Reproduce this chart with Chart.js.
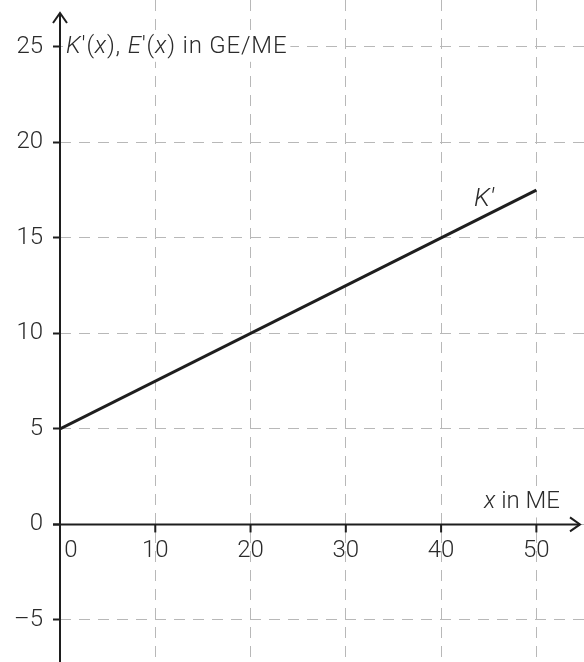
<!DOCTYPE html>
<html lang="de">
<head>
    <meta charset="UTF-8">
    <title>K'(x) Grenzkosten</title>
    <script src="https://cdn.jsdelivr.net/npm/chart.js"></script>
    <style>
        html, body { margin: 0; padding: 0; background: #fff; }
        .wrap { position: relative; width: 584px; height: 662px; }
    </style>
</head>
<body>
    <div class="wrap"><canvas id="chart"></canvas></div>
    <script>
        // data
        var xValues = [0, 50];
        var kValues = [5, 17.5];
        var xTicks = [10, 20, 30, 40, 50];
        var xLabels = ['0', '10', '20', '30', '40', '50'];
        var xLabelValues = [0, 10, 20, 30, 40, 50];
        var yTicks = [-5, 0, 5, 10, 15, 20, 25];

        var FONT = 'Roboto, "Liberation Sans", sans-serif';
        var SIZE = 24;
        var TEXT = '#2b2b2b';
        var AXIS = '#1e1e1e';

        // axes with arrows, x tick labels at y = 0, titles
        var axesPlugin = {
            id: 'axes',
            afterDraw: function (chart) {
                var ctx = chart.ctx;
                var xs = chart.scales.x, ys = chart.scales.y;
                var area = chart.chartArea;
                var x0 = xs.getPixelForValue(0);
                var y0 = ys.getPixelForValue(0);
                ctx.save();
                ctx.strokeStyle = AXIS;
                ctx.lineWidth = 2;
                ctx.lineCap = 'butt';

                // y axis
                ctx.beginPath();
                ctx.moveTo(x0, area.bottom);
                ctx.lineTo(x0, 13);
                ctx.stroke();
                ctx.beginPath();
                ctx.moveTo(x0 - 7, 23);
                ctx.lineTo(x0, 13);
                ctx.lineTo(x0 + 7, 23);
                ctx.stroke();

                // x axis
                ctx.beginPath();
                ctx.moveTo(x0 - 7, y0);
                ctx.lineTo(580, y0);
                ctx.stroke();
                ctx.beginPath();
                ctx.moveTo(570, y0 - 7);
                ctx.lineTo(580, y0);
                ctx.lineTo(570, y0 + 7);
                ctx.stroke();

                // x tick marks
                xTicks.forEach(function (v) {
                    var px = xs.getPixelForValue(v);
                    ctx.beginPath();
                    ctx.moveTo(px, y0);
                    ctx.lineTo(px, y0 + 8);
                    ctx.stroke();
                });

                // x tick labels
                ctx.font = '300 ' + SIZE + 'px ' + FONT;
                ctx.fillStyle = TEXT;
                ctx.textBaseline = 'middle';
                ctx.textAlign = 'center';
                xLabelValues.forEach(function (v, i) {
                    var px = xs.getPixelForValue(v);
                    if (v === 0) px += 11;
                    ctx.fillText(xLabels[i], px, y0 + 27);
                });

                // y title
                var parts = [
                    ['K', true], ['\u2032(', false], ['x', true], ['), ', false],
                    ['E', true], ['\u2032(', false], ['x', true], [') in GE/ME', false]
                ];
                drawParts(ctx, parts, x0 + 6, ys.getPixelForValue(25), '0.8px');

                // x title
                var xparts = [['x', true], [' in ME', false]];
                var w = measureParts(ctx, xparts, '0px');
                drawParts(ctx, xparts, 560 - w, y0 - 22, '0px');

                // curve label
                ctx.font = 'italic 300 26px ' + FONT;
                ctx.textAlign = 'center';
                ctx.fillStyle = TEXT;
                ctx.fillText('K\u2032', 484, 199);
                ctx.restore();
            }
        };

        function setFont(ctx, italic) {
            ctx.font = (italic ? 'italic ' : '') + '300 ' + SIZE + 'px ' + FONT;
        }
        function measureParts(ctx, parts, spacing) {
            var w = 0;
            ctx.letterSpacing = spacing;
            parts.forEach(function (p) { setFont(ctx, p[1]); w += ctx.measureText(p[0]).width; });
            return w;
        }
        function drawParts(ctx, parts, x, y, spacing) {
            var w = measureParts(ctx, parts, spacing);
            ctx.fillStyle = '#fff';
            ctx.fillRect(x - 3, y - 15, w + 6, 30);
            ctx.fillStyle = TEXT;
            ctx.textAlign = 'left';
            ctx.textBaseline = 'middle';
            ctx.letterSpacing = spacing;
            parts.forEach(function (p) {
                setFont(ctx, p[1]);
                ctx.fillText(p[0], x, y);
                x += ctx.measureText(p[0]).width;
            });
            ctx.letterSpacing = '0px';
        }

        var ctxChart = document.getElementById('chart').getContext('2d');
        var chart = new Chart(ctxChart, {
            type: 'line',
            data: {
                labels: xValues,
                datasets: [{
                    label: "K'",
                    data: xValues.map(function (x, i) { return { x: x, y: kValues[i] }; }),
                    borderColor: AXIS,
                    borderWidth: 3,
                    pointRadius: 0,
                    fill: false,
                    tension: 0
                }]
            },
            options: {
                responsive: true,
                maintainAspectRatio: false,
                animation: false,
                layout: { padding: 0 },
                plugins: {
                    legend: { display: false },
                    tooltip: { enabled: false }
                },
                scales: {
                    x: {
                        type: 'linear',
                        min: 0,
                        max: 55,
                        afterBuildTicks: function (scale) {
                            scale.ticks = xTicks.map(function (v) { return { value: v }; });
                        },
                        afterFit: function (scale) {
                            scale.height = 0;
                            scale.paddingLeft = 0;
                            scale.paddingRight = 0;
                        },
                        ticks: { display: false },
                        grid: { color: '#b8b8b8', lineWidth: 1, drawTicks: false },
                        border: { display: false, dash: [11, 8] }
                    },
                    y: {
                        type: 'linear',
                        min: -7.2,
                        max: 27.45,
                        afterBuildTicks: function (scale) {
                            scale.ticks = yTicks.map(function (v) { return { value: v }; });
                        },
                        afterFit: function (scale) {
                            scale.width = 60;
                            scale.paddingTop = 0;
                            scale.paddingBottom = 0;
                        },
                        ticks: {
                            padding: 10,
                            color: TEXT,
                            font: { family: FONT, size: SIZE, weight: 300 },
                            callback: function (v) { return v < 0 ? '\u2013' + Math.abs(v) : String(v); }
                        },
                        grid: {
                            color: '#b8b8b8',
                            lineWidth: 1,
                            tickLength: 7,
                            tickColor: AXIS,
                            tickWidth: 2,
                            tickBorderDash: []
                        },
                        border: { display: false, dash: [11, 8] }
                    }
                }
            },
            plugins: [axesPlugin]
        });
    </script>
</body>
</html>
